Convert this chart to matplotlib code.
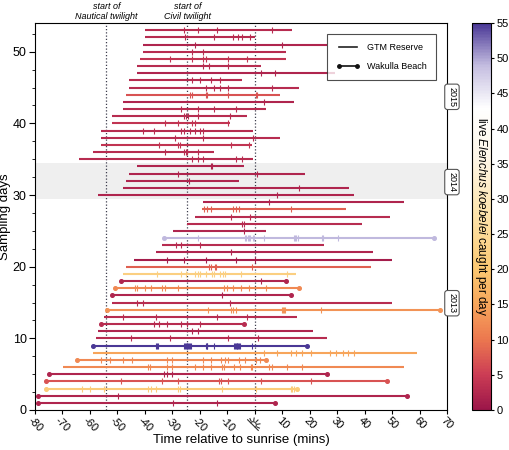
import numpy as np
import matplotlib
matplotlib.use("Agg")
import matplotlib.pyplot as plt
from matplotlib.colors import LinearSegmentedColormap, Normalize
from matplotlib.cm import ScalarMappable
from matplotlib.lines import Line2D
from matplotlib.ticker import MultipleLocator
import matplotlib.transforms as mtransforms

plt.rcParams['font.family'] = ['Liberation Sans', 'DejaVu Sans']
plt.rcParams['mathtext.fontset'] = 'custom'
plt.rcParams['mathtext.it'] = 'Liberation Sans:italic'
plt.rcParams['mathtext.rm'] = 'Liberation Sans'

# ---- data ----
day = list(range(53, 0, -1))
start_min = [-40, -40, -40.8, -40.8, -41.8, -42.9, -42.9, -45.8, -45.8, -46.8,
             -47.8, -47.8, -51.8, -51.8, -55.9, -55.9, -55.9, -58.9, -63.9,
             -42.9, -45.8, -46.8, -47.8, -56.9,
             -18.8, -19.3, -21.8, -24.5, -29.8, -33.0, -33.9, -35.9, -43.9, -46.8,
             -48.0, -48.8, -50.8, -51.8, -51.8, -53.8, -54.8, -55.9, -56.9, -57.8,
             -58.8, -58.8, -64.8, -69.9, -75.0, -76.0, -76.0, -79.0, -79.0]
end_min = [13.5, 0.0, 26.2, 11.3, 11.3, 2.2, 29.2, -4.8, 16.1, 9.2,
           14.3, 4.0, -2.7, -9.0, -0.8, 9.2, -1.0, -14.8, -0.8,
           -3.9, 18.2, -5.7, 34.3, 36.1,
           54.3, 33.1, 49.2, 39.2, 4.0, 65.2, 25.2, 43.2, 50.0, 42.2,
           14.9, 11.3, 16.1, 13.1, 50.0, 67.3, 15.3, -3.9, 21.2, 26.2,
           19.2, 59.2, 4.0, 54.3, 26.2, 48.2, 15.3, 55.3, 7.3]
n_caught = [3, 3, 2, 3, 4, 3, 2, 3, 3, 7,
            2, 3, 3, 4, 3, 3, 4, 3, 3,
            2, 2, 2, 2, 2,
            2, 8, 3, 3, 2, 49, 3, 2, 1, 8,
            22, 2, 12, 2, 3, 13, 3, 3, 2, 3,
            55, 15, 12, 12, 2, 7, 21, 2, 2]
site = ['G'] * 29 + ['W', 'G', 'G', 'G', 'G', 'G', 'W', 'W', 'W', 'G', 'W',
                     'G', 'W', 'G', 'G', 'W', 'G', 'W', 'G', 'W', 'W', 'W', 'W', 'W']
catch_times = [
    [-25.6, -20.8, -13.9, 6.2],
    [-25.4, -14.9, -7.9, -6.1, -4.7, -1.8],
    [-21.8, 10.1],
    [-22.8, -18.9],
    [-30.8, -22.8, -18.8, -17.8, -9.7, -2.7],
    [-18.7, -16.8, -9.7],
    [2.2, 7.4],
    [-22.8, -19.8, -15.9, -12.7],
    [-17.8, -14.8, -12.7, -9.7, 6.2],
    [-23.6, -22.9, -17.8, -17.2, -9.7, 0.3, 1.0],
    [3.2],
    [-26.8, -20.8, -14.8, -6.9],
    [-25.7, -25.0, -24.4, -20.8, -9.0],
    [-32.7, -27.8, -22.7, -21.8, -9.6],
    [-40.8, -36.8, -26.8, -25.9, -23.6, -21.8, -19.9, -18.9],
    [-29.0, -18.9, -0.8],
    [-34.8, -27.8, -27.1, -8.7, -2.0],
    [-32.7, -25.7, -25.0, -24.5, -20.8],
    [-22.8, -20.8, -18.9, -6.8, -4.8],
    [-15.9, -15.6],
    [-27.8, 1.0],
    [-23.9],
    [16.1],
    [8.0],
    [5.2],
    [-18.4, -17.2, -15.9, -7.8, -6.7, -5.7, 13.1],
    [-8.7, -1.8],
    [-4.8, -4.0],
    [-3.9],
    [-20.5, -3.4, -3.0, -2.6, -2.2, -1.8, -0.6, -0.2, 3.4, 14.4, 14.8, 15.2,
     15.6, 24.6, 25.0, 30.2],
    [-28.7, -26.9, -19.8],
    [-8.7],
    [-31.8, -25.7, -17.8, -6.7, 0.0],
    [-16.8, -16.0, -14.4, -14.2, -1.1],
    [-35.6, -26.8, -25.0, -21.9, -20.8, -19.8, -17.8, -15.5, -14.8, -12.6,
     -11.6, -10.8, -5.0, 11.9],
    [2.2],
    [-43.7, -42.8, -39.9, -37.9, -33.8, -32.7, -28.1, -11.2, -10.1, -7.9,
     -5.0, -2.0, 4.0],
    [-11.8],
    [-42.9, -40.8, -8.9],
    [-17.0, -8.7, -7.9, -7.0, 10.0, 10.4, 10.8, 11.2, 24.3],
    [-47.8, -35.8, -13.8, -2.7],
    [-36.7, -34.8, -31.8, -26.9, -24.7, -19.9],
    [-22.8, -20.8],
    [-44.9, -30.8, -9.9, 1.3],
    [-35.8, -35.5, -35.2, -25.7, -25.4, -25.1, -24.8, -24.5, -24.2, -23.9,
     -23.6, -23.3, -17.8, -17.5, -17.2, -14.8, -7.5, -7.2, -6.9, -6.6, -6.3,
     -6.0, -5.7, -5.4, -1.0],
    [3.4, 8.2, 13.1, 15.0, 17.1, 20.4, 27.3, 29.5, 32.3, 34.1, 36.2],
    [-56.0, -52.8, -47.8, -44.8, -31.8, -30.0, -18.9, -15.9, -12.2, -10.9,
     -9.9, -5.8, -3.5, 0.4, 1.9],
    [-39.0, -38.0, -32.0, -30.3, -21.6, -18.9, -15.9, -11.8, -11.1, -7.5,
     -5.4, -1.5, -1.0, 5.2, 6.2, 11.9, 17.1],
    [-33.0, -31.8, -30.2],
    [-48.8, -33.8, -27.8, -12.9, -12.2, -9.7, 2.2, 20.4],
    [-62.8, -59.9, -54.7, -38.7, -37.8, -35.8, -28.0, -27.2, -11.9, 0.6,
     13.1, 13.7, 14.3],
    [-49.7],
    [-29.7, -13.8],
]

twilight_min = [-54, -24.5, 0]
twilight_text = ['start of\nNautical twilight', 'start of\nCivil twilight', None]
year_labels = ['2013', '2014', '2015']
year_pos = [14.9, 31.8, 43.7]
band_2014 = (29.5, 34.5)

# colour scale
cmap = LinearSegmentedColormap.from_list('catch', [
    (0.0, '#9c1649'), (5 / 55, '#cc3d55'), (10 / 55, '#ec784f'),
    (15 / 55, '#f7a65b'), (20 / 55, '#fbc872'), (28 / 55, '#fde4ad'),
    (36 / 55, '#fef6e8'), (43 / 55, '#ffffff'), (49 / 55, '#c4bde0'),
    (1.0, '#4a3896')])
norm = Normalize(0, 55)

fig = plt.figure(figsize=(5.1, 4.5), dpi=100)
ax = fig.add_axes([35 / 510, 40 / 450, 412 / 510, 387 / 450])
cax = fig.add_axes([472 / 510, 40 / 450, 19 / 510, 387 / 450])

ax.axhspan(*band_2014, color='#efefef', zorder=0, lw=0)

for x, lab in zip(twilight_min, twilight_text):
    ax.axvline(x, color='#3d3d4d', ls=(0, (1, 1.6)), lw=0.9, zorder=1)
    if lab:
        ax.text(x, 1.004, lab, transform=ax.get_xaxis_transform(), ha='center',
                va='bottom', style='italic', fontsize=6.5, linespacing=1.15)

for y, s, e, n, st, tt in zip(day, start_min, end_min, n_caught, site, catch_times):
    c = cmap(norm(n))
    ax.plot([s, e], [y, y], color=c, lw=1.5, solid_capstyle='butt', zorder=2)
    ax.plot(tt, [y] * len(tt), ls='none', marker='|', ms=5, mew=0.8,
            color=c, zorder=3)
    if st == 'W':
        ax.plot([s, e], [y, y], ls='none', marker='o', ms=2.6, color=c, zorder=3)

ax.set_xlim(-80, 70)
ax.set_ylim(0, 54)
ax.set_xticks(range(-80, 71, 10))
ax.set_xticklabels([str(v) if v != 0 else '' for v in range(-80, 71, 10)],
                   rotation=-45, ha='center', fontsize=8)
ax.set_yticks(range(0, 51, 10))
ax.yaxis.set_minor_locator(MultipleLocator(2.5))
ax.tick_params(axis='y', labelsize=9, length=4, pad=2)
ax.tick_params(axis='y', which='minor', length=2.5)
ax.tick_params(axis='x', length=3, pad=1)
ax.set_xlabel('Time relative to sunrise (mins)', fontsize=9.5, labelpad=0)
ax.set_ylabel('Sampling days', fontsize=9.5, labelpad=1)

trans = mtransforms.blended_transform_factory(ax.transAxes, ax.transData)
for lab, y in zip(year_labels, year_pos):
    ax.text(1.012, y, lab, transform=trans, rotation=-90, ha='center',
            va='center', fontsize=6.5, clip_on=False,
            bbox=dict(boxstyle='round,pad=0.3', fc='white', ec='#555555', lw=0.8))

handles = [Line2D([], [], color='#222222', lw=1.2),
           Line2D([], [], color='#111111', lw=1.2, marker='o', ms=2.5)]
leg = ax.legend(handles, ['GTM Reserve', 'Wakulla Beach'], loc='upper right',
                bbox_to_anchor=(0.984, 0.983), fontsize=6.5, fancybox=False,
                edgecolor='#222222', borderpad=1.0, labelspacing=1.1,
                handlelength=2.6, numpoints=2)
leg.get_frame().set_linewidth(0.8)

# sunrise symbol in place of the 0 label
sun = fig.add_axes([245 / 510, 17 / 450, 18 / 510, 18 / 450])
sun.set_xlim(-1.2, 1.2)
sun.set_ylim(-1.2, 1.2)
sun.set_aspect('equal')
sun.axis('off')
ang = np.deg2rad(-45)
rot = np.array([[np.cos(ang), -np.sin(ang)], [np.sin(ang), np.cos(ang)]])
th = np.linspace(0, np.pi, 30)
arc = rot @ np.vstack([0.45 * np.cos(th), 0.45 * np.sin(th) - 0.2])
sun.plot(arc[0], arc[1], color='#333333', lw=0.8)
base = rot @ np.array([[-1.0, 1.0], [-0.2, -0.2]])
sun.plot(base[0], base[1], color='#333333', lw=0.8)
for a in np.deg2rad([20, 55, 90, 125, 160]):
    r = rot @ np.array([[0.62 * np.cos(a), 0.95 * np.cos(a)],
                        [0.62 * np.sin(a) - 0.2, 0.95 * np.sin(a) - 0.2]])
    sun.plot(r[0], r[1], color='#333333', lw=0.8)

cb = fig.colorbar(ScalarMappable(norm=norm, cmap=cmap), cax=cax)
cb.set_ticks(range(0, 56, 5))
cb.ax.tick_params(labelsize=8, length=2.5, pad=1.5)
cb.outline.set_linewidth(0.8)
cax.text(0.5, 0.5, r'live $\mathit{Elenchus\ koebelei}$ caught per day',
         transform=cax.transAxes, rotation=270, ha='center', va='center',
         fontsize=8.5)

fig.savefig('out.png', dpi=100)
